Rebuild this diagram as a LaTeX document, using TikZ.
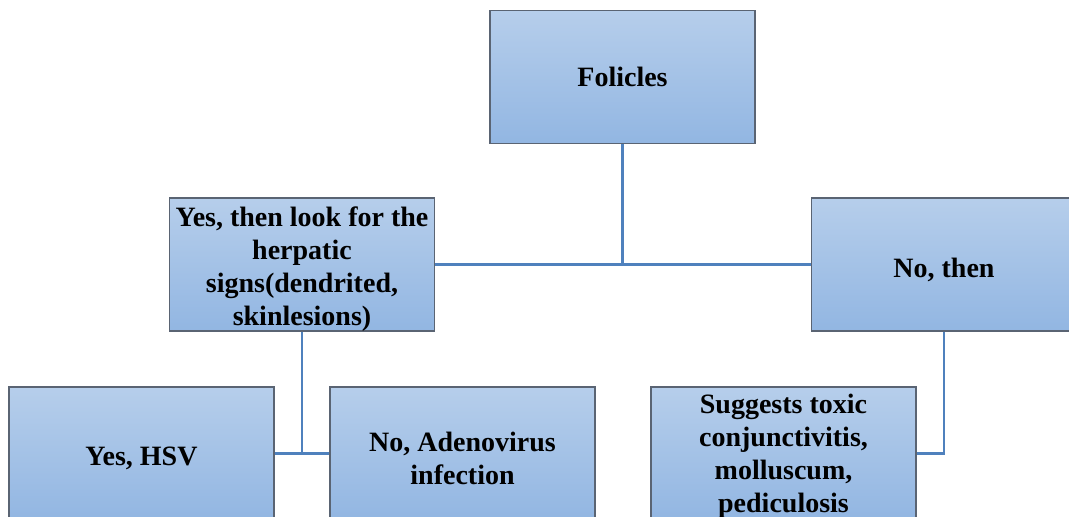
\documentclass[tikz,border=0pt]{standalone}
\usepackage{fontspec}
\setmainfont{Liberation Serif}
\definecolor{boxtop}{RGB}{182,206,235}
\definecolor{boxbot}{RGB}{146,182,226}
\definecolor{boxedge}{RGB}{90,100,115}
\definecolor{linkblue}{RGB}{79,129,189}
\tikzset{
  box/.style={draw=boxedge,line width=0.7pt,top color=boxtop,bottom color=boxbot,
    minimum width=132.5pt,minimum height=66.5pt,inner sep=0pt},
  txt/.style={align=center,inner sep=0pt,yshift=-2.5pt,
    font=\bfseries\fontsize{14}{16.5}\selectfont},
  link/.style={draw=linkblue,line width=1.2pt}
}
\begin{document}
\begin{tikzpicture}[x=0.5pt,y=-0.5pt]
  \useasboundingbox (0,0) rectangle (1069,517);
  \node[box,label={[txt,yshift=2.5pt]center:Folicles}] (fol) at (622.5,77) {};
  \node[box,label={[txt]center:Yes, then look for the\\herpatic\\signs(dendrited,\\skinlesions)}] (yes) at (302,264.5) {};
  \node[box,label={[txt]center:No, then}] (no) at (944,264.5) {};
  \node[box,label={[txt]center:Yes, HSV}] (hsv) at (141.5,453.5) {};
  \node[box,label={[txt]center:No, Adenovirus\\infection}] (adeno) at (462.5,453.5) {};
  \node[box,label={[txt,yshift=1pt]center:Suggests toxic\\conjunctivitis,\\molluscum,\\pediculosis}] (toxic) at (783.5,453.5) {};

  \draw[link] (fol.south) -- (fol.south |- yes.east);
  \draw[link] (yes.east) -- (no.west);
  \draw[link] (yes.south) -- (yes.south |- hsv.east);
  \draw[link] (hsv.east) -- (adeno.west);
  \draw[link] (no.south) |- (toxic.east);
\end{tikzpicture}
\end{document}
